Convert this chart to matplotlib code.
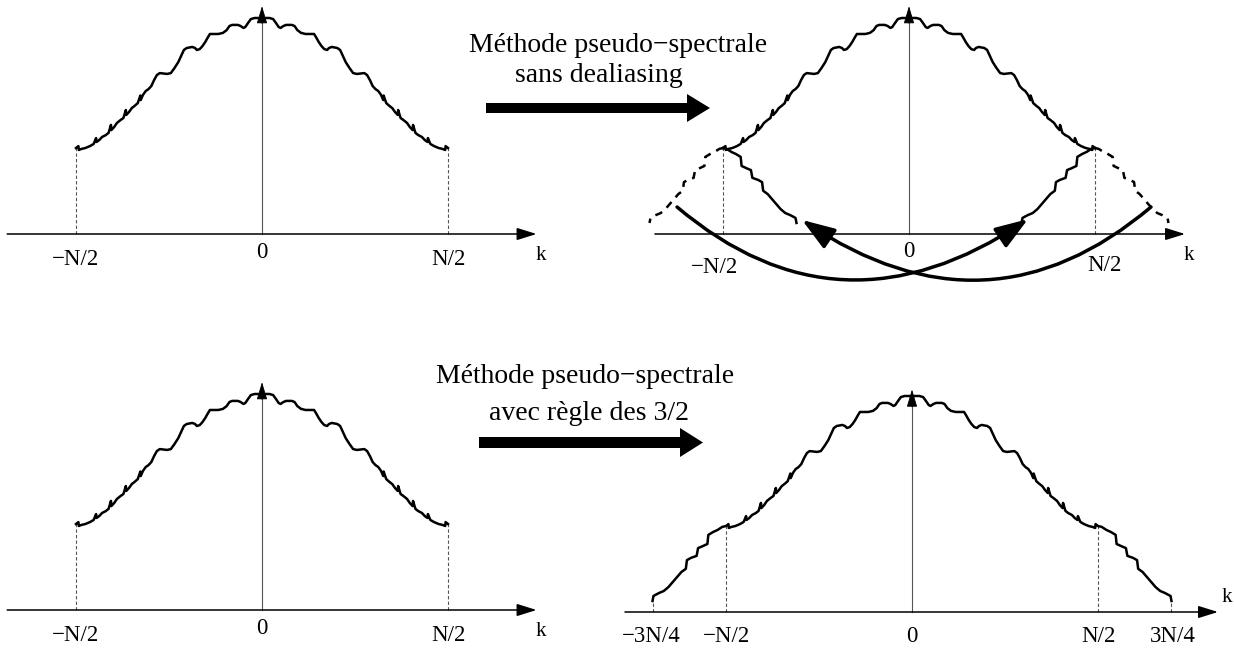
import matplotlib
matplotlib.use("Agg")
import matplotlib.pyplot as plt
import numpy as np
from matplotlib.patches import FancyArrow, FancyArrowPatch
from matplotlib.path import Path

plt.rcParams["font.family"] = ["Liberation Serif", "DejaVu Serif"]

# spectrum shape, right half only: k in units of N/2, amplitude scaled to 1 at k = 0
k_core = [0.000, 0.040, 0.060, 0.075, 0.090, 0.100, 0.115, 0.130, 0.160, 0.175,
          0.190, 0.210, 0.235, 0.280, 0.290, 0.305, 0.320, 0.335, 0.350, 0.360,
          0.375, 0.405, 0.420, 0.435, 0.450, 0.470, 0.490, 0.510, 0.550, 0.565,
          0.580, 0.595, 0.610, 0.625, 0.640, 0.652, 0.654, 0.668, 0.685, 0.700,
          0.715, 0.730, 0.732, 0.745, 0.760, 0.780, 0.795, 0.810, 0.812, 0.825,
          0.840, 0.860, 0.875, 0.890, 0.892, 0.905, 0.925, 0.950, 0.970, 0.985,
          0.987, 1.000]
e_core = [1.000, 1.000, 0.995, 0.977, 0.958, 0.954, 0.963, 0.968, 0.968, 0.963,
          0.944, 0.931, 0.926, 0.926, 0.912, 0.889, 0.870, 0.856, 0.852, 0.861,
          0.866, 0.861, 0.852, 0.824, 0.796, 0.769, 0.745, 0.741, 0.745, 0.736,
          0.713, 0.685, 0.671, 0.662, 0.644, 0.620, 0.641, 0.606, 0.593, 0.583,
          0.565, 0.551, 0.574, 0.537, 0.528, 0.514, 0.495, 0.481, 0.505, 0.468,
          0.458, 0.449, 0.435, 0.426, 0.444, 0.417, 0.407, 0.398, 0.394, 0.389,
          0.407, 0.398]
# modes beyond N/2 produced by the product (up to about 3N/4)
k_ext = [1.000, 1.020, 1.045, 1.070, 1.095, 1.100, 1.130, 1.150, 1.158, 1.190,
         1.210, 1.216, 1.240, 1.265, 1.285, 1.310, 1.335, 1.360, 1.380, 1.390,
         1.395]
e_ext = [0.398, 0.394, 0.380, 0.370, 0.357, 0.315, 0.303, 0.296, 0.260, 0.250,
         0.240, 0.200, 0.185, 0.160, 0.140, 0.115, 0.097, 0.088, 0.079, 0.074,
         0.051]

tick_k = [-1.0, 0.0, 1.0]
tick_lab = ["\u2212N/2", "0", "N/2"]
tick_k_32 = [-1.40, -1.0, 0.0, 1.0, 1.40]
tick_lab_32 = ["\u22123N/4", "\u2212N/2", "0", "N/2", "3N/4"]

title_top = ["Méthode pseudo\u2212spectrale", "sans dealiasing"]
title_bot = ["Méthode pseudo\u2212spectrale", "avec règle des 3/2"]

# aliasing arcs in the top-right panel: start, control, end (k, amplitude)
arc_left = [(-1.247, 0.125), (-0.371, -0.514), (0.640, 0.069)]
arc_right = [(1.301, 0.125), (0.425, -0.514), (-0.575, 0.065)]

W, H = 1234, 648
SX, SY = 186.0, 216.0  # pixels per N/2 and per unit of amplitude

kc = np.array(k_core)
ec = np.array(e_core)
kx = np.array(k_ext)
ex = np.array(e_ext)
k_full = np.concatenate([-kc[::-1], kc[1:]])
e_full = np.concatenate([ec[::-1], ec[1:]])
k_wide = np.concatenate([-kx[::-1], -kc[::-1][1:], kc[1:], kx[1:]])
e_wide = np.concatenate([ex[::-1], ec[::-1][1:], ec[1:], ex[1:]])

LW = 1.8


def add_panel(fig, cx, cy):
    xlim, ylim = (-1.8, 1.8), (-0.45, 1.15)
    ax = fig.add_axes([(cx + xlim[0] * SX) / W, (H - cy + ylim[0] * SY) / H,
                       (xlim[1] - xlim[0]) * SX / W, (ylim[1] - ylim[0]) * SY / H])
    ax.set_xlim(xlim)
    ax.set_ylim(ylim)
    ax.axis("off")
    return ax


def draw_axes(ax, x0, x1, ytop):
    ax.annotate("", xy=(x1, 0), xytext=(x0, 0),
                arrowprops=dict(arrowstyle="-|>,head_length=12,head_width=3.75",
                                mutation_scale=1, lw=1.1, color="k",
                                shrinkA=0, shrinkB=0))
    ax.plot([0, 0], [0, ytop - 0.03], color="#555555", lw=0.8)
    ax.annotate("", xy=(0, ytop), xytext=(0, ytop - 0.08),
                arrowprops=dict(arrowstyle="-|>,head_length=11,head_width=3.3",
                                mutation_scale=1, lw=0.6, color="k",
                                shrinkA=0, shrinkB=0))


def draw_ticks(ax, ks, heights):
    for k, h in zip(ks, heights):
        ax.plot([k, k], [0, h], color="#555555", lw=0.8, dashes=(3, 2))


def draw_labels(ax, ks, labels, dys, dxs=None, k_pos=1.5, k_dy=26):
    if dxs is None:
        dxs = [0] * len(ks)
    for k, lab, dy, dx in zip(ks, labels, dys, dxs):
        ax.annotate(lab, xy=(k, 0), xytext=(dx, -dy), textcoords="offset pixels",
                    ha="center", va="baseline", fontsize=16.5)
    ax.annotate("k", xy=(k_pos, 0), xytext=(0, -k_dy), textcoords="offset pixels",
                ha="center", va="baseline", fontsize=15)


fig = plt.figure(figsize=(W / 100, H / 100), dpi=100)

# top-left and bottom-left: the resolved spectrum
for cy in (234, 610):
    ax = add_panel(fig, 262, cy)
    draw_ticks(ax, [-1, 1], [ec[-1], ec[-1]])
    ax.plot(k_full, e_full, color="k", lw=LW)
    draw_axes(ax, -1.37, 1.476, 1.055)
    draw_labels(ax, tick_k, tick_lab, [31, 24, 31])

# top-right: without dealiasing, modes beyond N/2 fold back
ax = add_panel(fig, 909, 234)
draw_ticks(ax, [-1, 1], [ec[-1], ec[-1]])
ax.plot(k_full, e_full, color="k", lw=LW)
ax.plot(kx, ex, color="k", lw=LW, dashes=(3, 2.5))
ax.plot(-kx, ex, color="k", lw=LW, dashes=(3, 2.5))
ax.plot(kx - 2, ex, color="k", lw=LW)
ax.plot(2 - kx, ex, color="k", lw=LW)
draw_axes(ax, -1.366, 1.484, 1.055)
draw_labels(ax, tick_k, tick_lab, [39, 23, 37], dxs=[-9, 0, 9], k_pos=1.505)
for arc in (arc_left, arc_right):
    path = Path(arc, [Path.MOVETO, Path.CURVE3, Path.CURVE3])
    ax.add_patch(FancyArrowPatch(path=path,
                                 arrowstyle="-|>,head_length=20,head_width=7",
                                 mutation_scale=1, lw=2.5, color="k",
                                 clip_on=False))

# bottom-right: 3/2 rule, the product is kept up to 3N/4
ax = add_panel(fig, 912, 612)
draw_ticks(ax, [-kx[-1], -1, 1, kx[-1]], [ex[-1], ec[-1], ec[-1], ex[-1]])
ax.plot(k_wide, e_wide, color="k", lw=LW)
draw_axes(ax, -1.543, 1.645, 1.03)
draw_labels(ax, tick_k_32, tick_lab_32, [30] * 5, k_pos=1.69, k_dy=-10)

# captions and the big arrows between panels
ov = fig.add_axes([0, 0, 1, 1])
ov.set_xlim(0, W)
ov.set_ylim(H, 0)
ov.axis("off")
ov.text(618, 52, title_top[0], ha="center", va="baseline", fontsize=20)
ov.text(599, 82, title_top[1], ha="center", va="baseline", fontsize=20)
ov.text(585, 383, title_bot[0], ha="center", va="baseline", fontsize=20)
ov.text(589, 420, title_bot[1], ha="center", va="baseline", fontsize=20)
ov.add_patch(FancyArrow(486, 108, 224, 0, width=10, head_width=28, head_length=23,
                        length_includes_head=True, color="k", lw=0))
ov.add_patch(FancyArrow(479, 442.5, 224, 0, width=11, head_width=29, head_length=23,
                        length_includes_head=True, color="k", lw=0))

fig.savefig("out.png", dpi=100)
